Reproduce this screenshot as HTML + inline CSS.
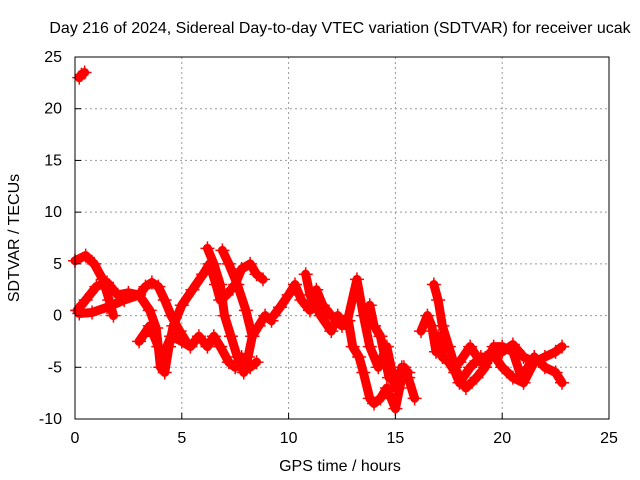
<!DOCTYPE html>
<html><head><meta charset="utf-8"><style>
body{margin:0;background:#fff}
svg{display:block;font-family:"Liberation Sans",sans-serif}
</style></head><body>
<svg id="chart" width="640" height="480" viewBox="0 0 640 480">
<rect width="640" height="480" fill="#fff"/>
<text x="340" y="33" font-size="16" text-anchor="middle">Day 216 of 2024, Sidereal Day-to-day VTEC variation (SDTVAR) for receiver ucak</text>
<g id="grid"></g>
<g id="marks"></g>
<rect x="75" y="57" width="534" height="362" fill="none" stroke="#000" stroke-width="1"/>
<g id="ticks"></g>
<text x="340" y="471" font-size="16" text-anchor="middle">GPS time / hours</text>
<text x="19" y="238" font-size="16" text-anchor="middle" transform="rotate(-90 19 238)">SDTVAR / TECUs</text>
</svg>
<script>
const xTicks=[0,5,10,15,20,25];
const yTicks=[-10,-5,0,5,10,15,20,25];
const track1=[[0.2,23],[0.3,23.3],[0.45,23.5]];
const track2=[[0,5.3],[0.5,5.8],[0.9,5],[1.3,3.5],[1.6,1.5],[1.8,0]];
const track3=[[0.1,0.5],[0.5,1.5],[1,2.8],[1.5,3.2],[2,2],[2.5,2.2],[3,2],[3.3,2.8],[3.6,3.2],[3.9,2.8],[4.2,1.5],[4.5,0],[4.9,-1.5],[5.2,-2.5]];
const track4=[[0.2,0.2],[0.8,0.3],[1.5,0.8],[2.3,1.5],[3,2],[3.5,0.5],[3.8,-1.2],[3.9,-3],[4,-5],[4.2,-5.5],[4.4,-3],[4.6,-1],[5,1],[5.5,2.5],[6,4],[6.3,5],[6.6,3],[6.8,1.5],[7.1,2],[7.5,3],[7.8,4.5],[8.2,5],[8.5,4],[8.8,3.5]];
const track5=[[3,-2.5],[3.5,-1],[3.7,-2],[4.1,-4],[4.5,-2],[5,-2.5],[5.4,-3],[5.8,-2],[6.2,-3],[6.5,-2],[6.8,-3],[7.2,-4.5],[7.5,-5],[7.8,-4],[8.2,-5],[8.5,-4.5]];
const track6=[[6.2,6.5],[6.5,5],[6.8,3],[7,0],[7.3,-2],[7.6,-4],[7.9,-5.5],[8.1,-4],[8.3,-2],[8.6,-1],[8.9,0],[9.2,-0.5]];
const track7=[[6.9,6.3],[7.2,5],[7.6,3],[8,0.5],[8.3,-2]];
const track8=[[9.3,0],[9.6,0.8],[10,2],[10.3,3],[10.6,1.5],[11,0.5],[11.3,2.5],[11.6,1],[12,0],[12.5,-1],[12.8,-0.5],[13,-3],[13.3,-4],[13.5,-5.5],[13.8,-8],[14,-8.5],[14.3,-8],[14.6,-7],[15,-9],[15.2,-7],[15.4,-5],[15.6,-6],[15.9,-8]];
const track9=[[10.8,4],[11,2],[11.5,0],[12,-1.5],[12.3,0],[12.7,-1],[13.2,3.5],[13.5,0],[13.8,-3],[14.2,-5],[14.6,-3],[14.8,-5],[15,-7],[15.3,-5],[15.6,-5.5]];
const track10=[[13.8,1],[14,-1],[14.3,-2],[14.5,-4],[14.7,-6]];
const track11=[[16.2,-1.5],[16.5,0],[16.7,-1],[16.9,-3.5],[17,-2],[17.2,-4],[17.5,-4.5],[17.8,-5.5],[18,-6.5],[18.5,-5],[19,-4],[19.5,-4],[20,-3.5],[20.5,-2.8],[21,-4],[21.5,-4.5],[22,-4],[22.5,-3.5],[22.8,-3]];
const track12=[[16.8,3],[17,1.5],[17.2,-1],[17.5,-3],[17.8,-5],[18,-6],[18.3,-7],[18.8,-6],[19.2,-5],[19.6,-3],[20,-3],[20.5,-3.5],[20.9,-6],[21.2,-5],[21.5,-4],[22,-5],[22.5,-5.5],[22.8,-6.5]];
const track13=[[18,-4.5],[18.5,-3],[19,-4.5],[19.5,-3.5],[20,-5],[20.5,-6],[21,-6.5],[21.5,-4.5]];
const tracks=[track1,track2,track3,track4,track5,track6,track7,track8,track9,track10,track11,track12,track13];

const NS="http://www.w3.org/2000/svg";
const X0=75,X1=609,Y0=419,Y1=57;
function xs(t){return X0+(t-0)/(25-0)*(X1-X0);}
function ys(v){return Y0-(v+10)/(35)*(Y0-Y1);}
function mk(tag,attrs,parent){const e=document.createElementNS(NS,tag);for(const k in attrs)e.setAttribute(k,attrs[k]);parent.appendChild(e);return e;}
const grid=document.getElementById('grid'),ticks=document.getElementById('ticks'),marks=document.getElementById('marks');
xTicks.forEach(t=>{
  const x=xs(t);
  if(t>0&&t<25){const g=mk('line',{x1:x,x2:x,y1:Y1,y2:Y0,stroke:'#999','stroke-dasharray':'2,3'},grid);
  
  }
  const tk=mk('line',{x1:x,x2:x,y1:Y0,y2:Y0-6,stroke:'#000'},ticks);
  
  
  const lb=mk('text',{x:x,y:443,'font-size':16,'text-anchor':'middle'},ticks);lb.textContent=t;
  
  
});
yTicks.forEach(v=>{
  const y=ys(v);
  if(v>-10&&v<25){const g=mk('line',{x1:X0,x2:X1,y1:y,y2:y,stroke:'#999','stroke-dasharray':'2,3'},grid);
  
  }
  const tk=mk('line',{x1:X0,x2:X0+6,y1:y,y2:y,stroke:'#000'},ticks);
  
  
  const lb=mk('text',{x:62,y:y+5,'font-size':16,'text-anchor':'end'},ticks);lb.textContent=v;
  
  
});
tracks.forEach((tr,i)=>{
  const p=mk('polyline',{points:tr.map(d=>xs(d[0])+','+ys(d[1])).join(' '),fill:'none',stroke:'#f00','stroke-width':9,'stroke-linejoin':'round','stroke-linecap':'round'},marks);
  
  
  tr.forEach(d=>{
    const x=xs(d[0]),y=ys(d[1]);
    const m=mk('path',{d:`M${x-7},${y}H${x+7}M${x},${y-7}V${y+7}`,stroke:'#f00','stroke-width':1.5},marks);
    
    
  });
});
</script>
</body></html>
